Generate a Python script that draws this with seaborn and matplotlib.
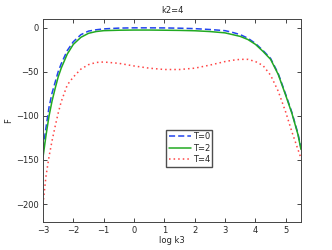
import numpy as np
import pandas as pd
import matplotlib
matplotlib.use("Agg")
import matplotlib.pyplot as plt
import seaborn as sns

# values
log_k3 = [-3, -2.9, -2.8, -2.7, -2.6, -2.5, -2.4, -2.2, -2.0, -1.75, -1.5, -1.25, -1,
          -0.5, 0, 0.5, 1, 1.5, 2, 2.5, 3, 3.25, 3.5, 3.75, 4, 4.25, 4.5, 4.75, 5, 5.2, 5.4, 5.5]
F_T0 = [-137, -113, -90, -74, -62, -50, -41, -26, -16, -8, -4, -2.5, -1.5,
        -0.6, -0.3, -0.3, -0.4, -0.7, -1.2, -2.2, -3.5, -5.5, -8, -12, -18, -26, -35, -52, -76, -96, -120, -136]
F_T2 = [-147, -122, -100, -83, -69, -56, -46, -30, -19, -11, -6.5, -4.5, -3.5,
        -3, -2.8, -2.8, -3, -3.2, -3.6, -4.5, -6, -8, -10, -13.5, -19, -27, -36, -53, -77, -97, -121, -138]
F_T4 = [-200, -168, -146, -128, -112, -97, -84, -65, -56, -47, -42, -39.5, -39,
        -40.5, -43.5, -46, -47.5, -47.5, -46, -42.5, -38.5, -37, -36, -36, -38.5, -43, -54, -72, -96, -118, -138, -148]
labels = ["T=0", "T=2", "T=4"]

df = pd.DataFrame({
    "log k3": log_k3 * 3,
    "F": F_T0 + F_T2 + F_T4,
    "T": [labels[0]] * len(log_k3) + [labels[1]] * len(log_k3) + [labels[2]] * len(log_k3),
})

sns.set_style("white")
plt.rcParams["font.family"] = ["DejaVu Sans"]

fig = plt.figure(figsize=(3.32, 2.5), dpi=100)
ax = fig.add_axes([0.1295, 0.113, 0.777, 0.812])

palette = {"T=0": "#2244ee", "T=2": "#22aa22", "T=4": "#ff4444"}
dashes = {"T=0": (4, 2), "T=2": "", "T=4": (1, 2)}
sns.lineplot(data=df, x="log k3", y="F", hue="T", style="T", palette=palette,
             dashes=dashes, linewidth=1.1, ax=ax)

ax.set_xlim(-3, 5.5)
ax.set_ylim(-220, 10)
ax.set_xticks(range(-3, 6))
ax.set_yticks([-200, -150, -100, -50, 0])
ax.set_yticklabels(["\u2212200", "\u2212150", "\u2212100", "\u221250", "0"])
ax.set_xticklabels(["\u22123", "\u22122", "\u22121", "0", "1", "2", "3", "4", "5"])
ax.tick_params(direction="in", length=3, width=0.6, labelsize=6, top=True, right=True,
               bottom=True, left=True, pad=3)
for s in ax.spines.values():
    s.set_color("#444444")
    s.set_linewidth(0.7)
ax.set_xlabel("log k3", fontsize=6, labelpad=1)
ax.set_ylabel("F", fontsize=6, labelpad=2)
ax.set_title("k2=4", fontsize=6, pad=4)

ax.legend(loc="upper left", bbox_to_anchor=(0.477, 0.453), fontsize=6, frameon=True,
          fancybox=False, edgecolor="#222222", handlelength=2.7, handletextpad=0.2,
          borderpad=0.3, labelspacing=0.3, borderaxespad=0)

fig.savefig("out.png", dpi=100)
